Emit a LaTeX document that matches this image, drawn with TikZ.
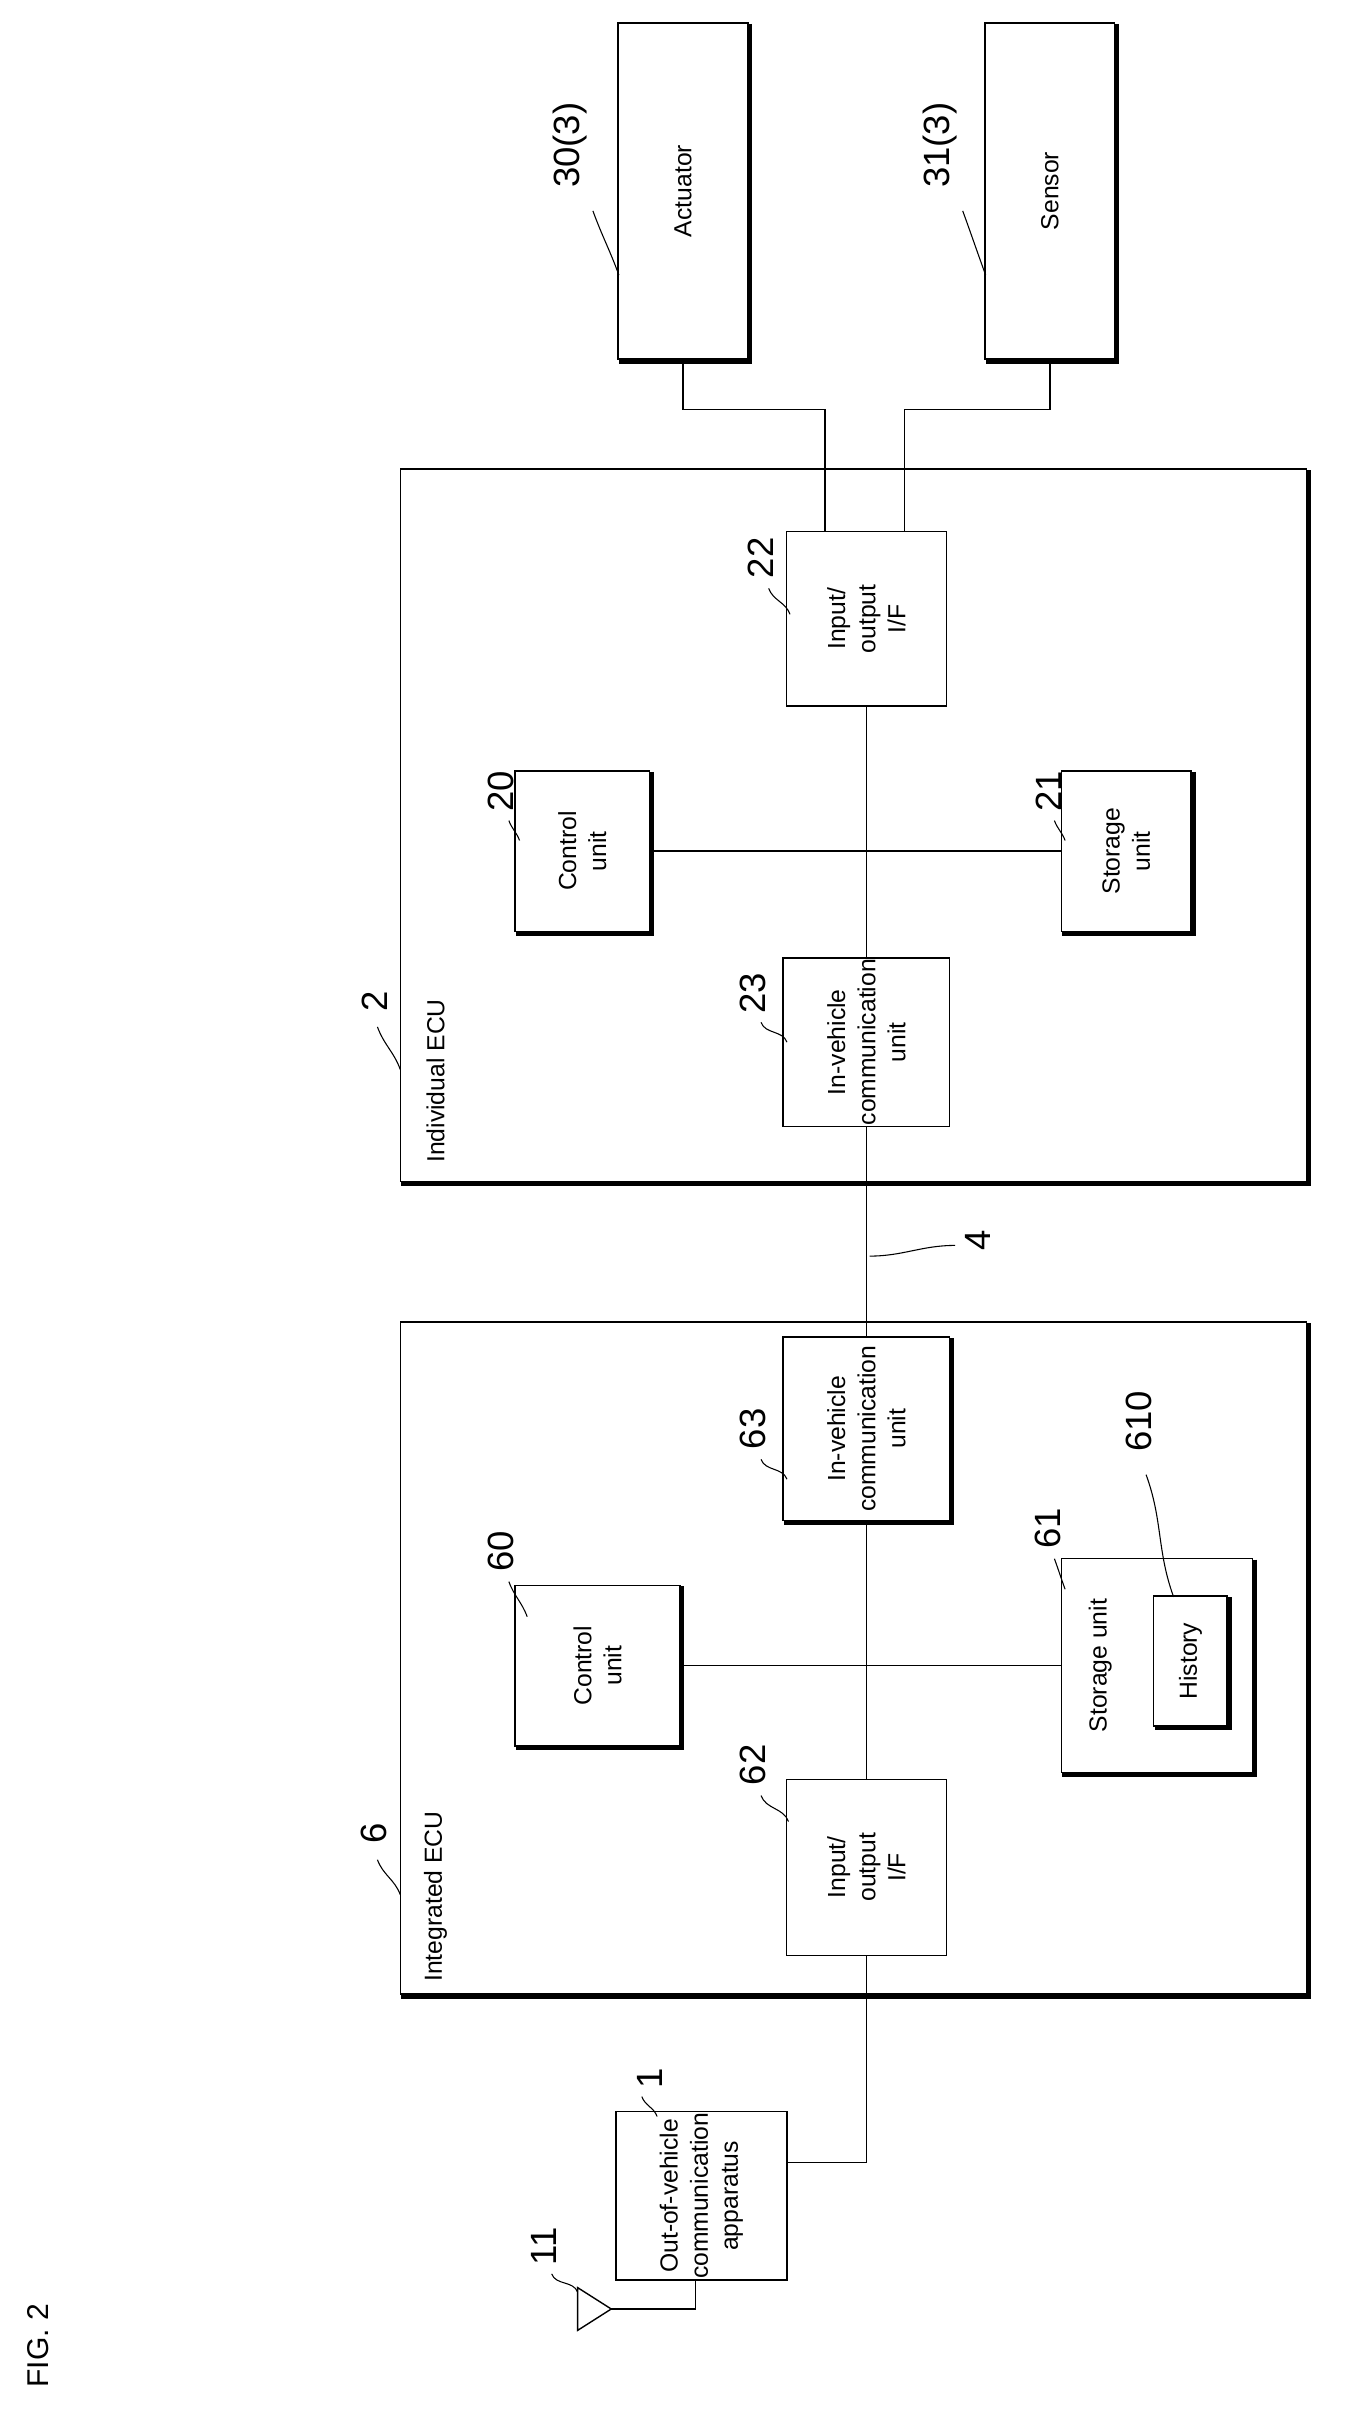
\documentclass[tikz,border=0pt]{standalone}
\usepackage{fontspec}
\setmainfont{Liberation Sans}
\tikzset{
  box/.style={draw, line width=1.3pt, rotate=90, align=center, inner sep=1pt,
    font=\fontsize{23}{28}\selectfont},
  shad/.style={line width=4pt},
  num/.style={rotate=90, font=\fontsize{34}{38}\selectfont},
  lead/.style={line width=1pt},
  wire/.style={line width=1.3pt}
}
% thick shadow on right and bottom side of a rotated box
\newcommand{\shadowit}[1]{\draw[shad] ([xshift=1.5pt,yshift=-1.5pt]#1.south east) -- ([xshift=1.5pt,yshift=-1.5pt]#1.south west) -- ([xshift=1.5pt,yshift=-1.5pt]#1.north west);}
\begin{document}
\begin{tikzpicture}[x=0.05cm, y=-0.05cm]
  \useasboundingbox (0,0) rectangle (880,1583);

  % ECU frames
  \node[box, minimum width=23.3cm, minimum height=29.65cm] (ecu2) at (558.5,540) {};
  \node[box, minimum width=22cm, minimum height=29.65cm] (ecu6) at (558.5,1085) {};
  \shadowit{ecu2} \shadowit{ecu6}
  \node[box, draw=none, anchor=west] (lbl2) at (285,762) {Individual ECU};
  \node[box, draw=none, anchor=west] (lbl6) at (285,1298) {Integrated ECU};

  % external devices
  \node[box, minimum width=11cm, minimum height=4.25cm] (act) at (447,125) {Actuator};
  \node[box, minimum width=11cm, minimum height=4.25cm] (sen) at (687,125) {Sensor};
  \shadowit{act} \shadowit{sen}

  % individual ECU units
  \node[box, minimum width=5.7cm, minimum height=5.25cm] (io22) at (567,405) {Input/\\output\\I/F};
  \node[box, minimum width=5.25cm, minimum height=4.4cm] (ctl20) at (381,557) {Control\\unit};
  \node[box, minimum width=5.25cm, minimum height=4.25cm] (sto21) at (737,557) {Storage\\unit};
  \node[box, minimum width=5.25cm, minimum height=5.45cm] (com23) at (567,682) {In-vehicle\\communication\\unit};
  \shadowit{ctl20} \shadowit{sto21}

  % integrated ECU units
  \node[box, minimum width=6cm, minimum height=5.45cm] (com63) at (567,935) {In-vehicle\\communication\\unit};
  \node[box, minimum width=5.25cm, minimum height=5.4cm] (ctl60) at (391,1090) {Control\\unit};
  \node[box, minimum width=7cm, minimum height=6.25cm] (sto61) at (757,1090) {};
  \node[box, draw=none] (sto61t) at (720,1090) {Storage unit};
  \node[box, minimum width=4.25cm, minimum height=2.4cm] (hist) at (779,1087) {History};
  \node[box, minimum width=5.75cm, minimum height=5.25cm] (io62) at (567,1222) {Input/\\output\\I/F};
  \shadowit{com63} \shadowit{ctl60} \shadowit{sto61} \shadowit{hist}

  % out-of-vehicle apparatus and antenna
  \node[box, minimum width=5.25cm, minimum height=5.6cm] (out1) at (459,1437) {Out-of-vehicle\\communication\\apparatus};
  \coordinate (ant) at (400,1511);
  \draw[wire] (378,1497) -- (378,1525) -- (ant) -- cycle;

  % connectors
  \coordinate (ja) at (540,268);
  \coordinate (jb) at (592,268);
  \coordinate (jc) at (567,1415);
  \draw[wire] (act.west) |- (ja) -- (ja |- io22.east);
  \draw[wire] (sen.west) |- (jb) -- (jb |- io22.east);
  \draw[wire] (io22.west) -- (com23.east);
  \draw[wire] (ctl20.south) -- (sto21.north);
  \draw[wire] (com23.west) -- (com63.east);
  \draw[wire] (com63.west) -- (io62.east);
  \draw[wire] (ctl60.south) -- (sto61.north);
  \draw[wire] (io62.west) -- (jc) -- (jc -| out1.south);
  \draw[wire] ([xshift=-0.2cm]out1.west) |- (ant);

  % reference numerals
  \node[num] (n30) at (373,95) {30(3)};
  \draw[lead] (388,138) to[out=-70,in=110] (405,180);
  \node[num] (n31) at (615,95) {31(3)};
  \draw[lead] (630,138) to[out=-70,in=110] (645,180);
  \node[num] (n2) at (245,655) {2};
  \draw[lead] (247,672) to[out=-70,in=110] (262,700);
  \node[num] (n22) at (498,365) {22};
  \draw[lead] (503,385) to[out=-70,in=110] (517,402);
  \node[num] (n20) at (328,518) {20};
  \draw[lead] (333,537) to[out=-70,in=110] (340,550);
  \node[num] (n21) at (686,518) {21};
  \draw[lead] (690,537) to[out=-70,in=110] (697,550);
  \node[num] (n23) at (493,650) {23};
  \draw[lead] (498,669) to[out=-70,in=110] (515,682);
  \node[num] (n4) at (640,812) {4};
  \draw[lead] (625,815) to[out=180,in=0] (569,822);
  \node[num] (n6) at (245,1200) {6};
  \draw[lead] (247,1217) to[out=-70,in=110] (262,1240);
  \node[num] (n63) at (493,935) {63};
  \draw[lead] (498,955) to[out=-70,in=110] (515,968);
  \node[num] (n60) at (328,1015) {60};
  \draw[lead] (333,1035) to[out=-70,in=110] (345,1058);
  \node[num] (n61) at (686,1000) {61};
  \draw[lead] (690,1020) to[out=-70,in=110] (697,1040);
  \node[num] (n610) at (745,930) {610};
  \draw[lead] (750,965) to[out=-70,in=110] (768,1045);
  \node[num] (n62) at (493,1155) {62};
  \draw[lead] (498,1175) to[out=-70,in=110] (516,1192);
  \node[num] (n1) at (425,1360) {1};
  \draw[lead] (420,1372) to[out=-70,in=110] (430,1385);
  \node[num] (n11) at (356,1470) {11};
  \draw[lead] (361,1488) to[out=-70,in=110] (378,1500);

  \node[num, font=\fontsize{28}{32}\selectfont] (fig) at (25,1535) {FIG. 2};
\end{tikzpicture}
\end{document}
